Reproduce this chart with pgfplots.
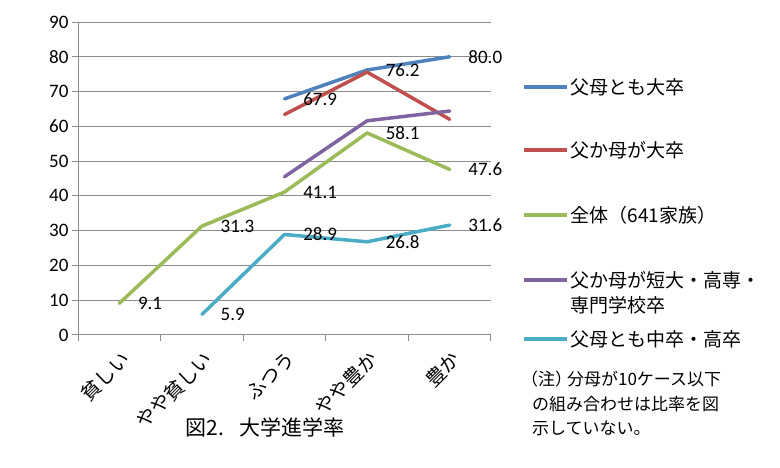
\documentclass[border=0pt]{standalone}
\usepackage{fontspec}
\setmainfont{Carlito}
\newfontfamily\jp{Noto Sans CJK JP}
\usepackage{pgfplots}
\pgfplotsset{compat=1.18}
\definecolor{cblue}{RGB}{79,129,189}
\definecolor{cred}{RGB}{192,80,77}
\definecolor{cgreen}{RGB}{155,187,89}
\definecolor{cpurple}{RGB}{128,100,162}
\definecolor{ccyan}{RGB}{75,172,198}
\definecolor{gridgray}{RGB}{140,140,140}
\newcommand{\lab}{\pgfmathprintnumber[fixed,fixed zerofill,precision=1]{\pgfplotspointmeta}}
\begin{document}
\begin{tikzpicture}
\begin{axis}[
  at={(78pt,133pt)}, anchor=south west,
  scale only axis, width=413pt, height=313pt,
  xmin=-0.5, xmax=4.5, ymin=0, ymax=90,
  clip=false,
  /pgf/number format/assume math mode=true,
  ytick={0,10,...,90},
  xtick={0,1,2,3,4},
  xticklabels={貧しい,やや貧しい,ふつう,やや豊か,豊か},
  minor xtick={-0.5,0.5,...,4.5},
  major x tick style={draw=none},
  tick align=outside,
  major tick length=6pt, minor tick length=6pt,
  axis x line*=bottom, axis y line*=left,
  axis line style={draw=gridgray, line width=1pt, -},
  tick style={draw=gridgray, line width=1pt},
  ymajorgrids, grid style={draw=gridgray, line width=1pt},
  yticklabel style={font=\fontsize{19}{23}\selectfont},
  xticklabel style={font=\jp\fontsize{19.5}{23}\selectfont, xshift=9pt, yshift=-12pt, rotate=45, anchor=east},
  every axis plot/.append style={line width=3.5pt, line join=round, line cap=round},
  legend image code/.code={\draw[#1, line cap=butt] (0pt,7.5pt) -- (43pt,7.5pt);},
  legend style={at={(axis description cs:1.075,0.8642)}, anchor=north west, draw=none, fill=none,
    inner sep=0pt, row sep=0pt, column sep=2pt, cells={anchor=base west},
    nodes={inner sep=0pt, text depth={}, text height={}},
    font=\jp\fontsize{19}{25}\selectfont},
]
\addplot[cblue] coordinates {(2,67.9) (3,76.2) (4,80.0)};
\addlegendentry{\rule[-33pt]{0pt}{63pt}父母とも大卒}
\addplot[cred] coordinates {(2,63.4) (3,75.6) (4,62.0)};
\addlegendentry{\rule[-35pt]{0pt}{65pt}父か母が大卒}
\addplot[cgreen] coordinates {(0,9.1) (1,31.3) (2,41.1) (3,58.1) (4,47.6)};
\addlegendentry{\rule[-35pt]{0pt}{65pt}全体（641家族）}
\addplot[cpurple] coordinates {(2,45.5) (3,61.6) (4,64.4)};
\addlegendentry{\rule[-34pt]{0pt}{64pt}\begin{tabular}[t]{@{}l@{}}父か母が短大・高専・\\専門学校卒\end{tabular}}
\addplot[ccyan] coordinates {(1,5.9) (2,28.9) (3,26.8) (4,31.6)};
\addlegendentry{\rule[-8pt]{0pt}{33pt}父母とも中卒・高卒}
% data labels
\pgfplotsset{labstyle/.style={draw=none, forget plot, point meta=y,
  nodes near coords={\lab},
  nodes near coords style={anchor=west, xshift=17pt, inner sep=0pt, font=\fontsize{19}{23}\selectfont, text=black}}}
\addplot[labstyle] coordinates {(2,67.9) (3,76.2) (4,80.0)};
\addplot[labstyle] coordinates {(0,9.1) (1,31.3) (2,41.1) (3,58.1) (4,47.6)};
\addplot[labstyle] coordinates {(1,5.9) (2,28.9) (3,26.8) (4,31.6)};
\node[font=\jp\fontsize{21}{24}\selectfont, anchor=center] at (axis description cs:0.453,-0.297) {図2.\hspace{0.7em}大学進学率};
\node[font=\jp\fontsize{17}{24.5}\selectfont, anchor=north west, align=left, inner sep=0pt] at (axis description cs:1.099,-0.115) {\kern-11pt（注）\kern-5pt分母が10ケース以下\\の組み合わせは比率を図\\示していない。};
\end{axis}
\pgfresetboundingbox
\path (0,0) rectangle (780pt,468pt);
\end{tikzpicture}
\end{document}
